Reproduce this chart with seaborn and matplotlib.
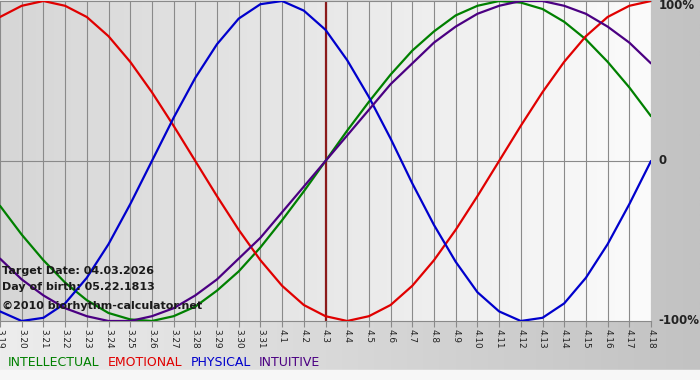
import numpy as np
import pandas as pd
import seaborn as sns
from matplotlib import pyplot as plt
from matplotlib.colors import LinearSegmentedColormap

sns.set_style('white')
plt.rcParams['font.family'] = ['DejaVu Sans']

# day labels, 3.19 .. 4.18
days = ['3.19', '3.20', '3.21', '3.22', '3.23', '3.24', '3.25', '3.26', '3.27', '3.28',
        '3.29', '3.30', '3.31', '4.1', '4.2', '4.3', '4.4', '4.5', '4.6', '4.7', '4.8',
        '4.9', '4.10', '4.11', '4.12', '4.13', '4.14', '4.15', '4.16', '4.17', '4.18']

# cycle values in percent
intellectual = [-28, -46, -62, -76, -87, -95, -99, -100, -97, -91, -81, -69, -54, -37, -19, 0,
                19, 37, 54, 69, 81, 91, 97, 100, 99, 95, 87, 76, 62, 46, 28]
emotional = [90, 97, 100, 97, 90, 78, 62, 43, 22, 0, -22, -43, -62, -78, -90, -97,
             -100, -97, -90, -78, -62, -43, -22, 0, 22, 43, 62, 78, 90, 97, 100]
physical = [-94, -100, -98, -89, -73, -52, -27, 0, 27, 52, 73, 89, 98, 100, 94, 82,
            63, 40, 14, -14, -40, -63, -82, -94, -100, -98, -89, -73, -52, -27, 0]
intuitive = [-61, -74, -84, -92, -97, -100, -100, -97, -92, -84, -74, -61, -48, -32, -16, 0,
             16, 32, 48, 61, 74, 84, 92, 97, 100, 100, 97, 92, 84, 74, 61]

target_day = '4.3'
colors = {'INTELLECTUAL': '#008000', 'EMOTIONAL': '#e00000',
          'PHYSICAL': '#0000cc', 'INTUITIVE': '#4b0082'}

df = pd.DataFrame({'day': list(range(len(days))) * 4,
                   'value': intellectual + emotional + physical + intuitive,
                   'cycle': ['INTELLECTUAL'] * 31 + ['EMOTIONAL'] * 31
                            + ['PHYSICAL'] * 31 + ['INTUITIVE'] * 31})

fig = plt.figure(figsize=(7, 3.8), dpi=100)

# background of the whole picture
bg = fig.add_axes([0, 0, 1, 1])
bg_cmap = LinearSegmentedColormap.from_list('bg', ['#ededed', '#c2c2c2'])
bg.imshow(np.linspace(0, 1, 256).reshape(1, -1), extent=[0, 1, 0, 1],
          aspect='auto', cmap=bg_cmap)
bg.axhspan(0, 10 / 380, color='#f7f7f7')
bg.set_xlim(0, 1)
bg.set_ylim(0, 1)
bg.axis('off')

ax = fig.add_axes([0, 59 / 380, 651 / 700, 320 / 380])
plot_cmap = LinearSegmentedColormap.from_list('plot', ['#d6d6d6', '#fbfbfb'])
ax.imshow(np.linspace(0, 1, 256).reshape(1, -1), extent=[0, 30, -100, 100],
          aspect='auto', cmap=plot_cmap, zorder=0)

for i in range(len(days)):
    ax.axvline(i, color='#8a8a8a', lw=0.8, zorder=1)
ax.axhline(0, color='#8a8a8a', lw=0.8, zorder=1)
ax.axvline(days.index(target_day), color='#8b1a1a', lw=1.6, zorder=2)

sns.lineplot(data=df, x='day', y='value', hue='cycle', palette=colors,
             linewidth=1.6, legend=False, ax=ax, zorder=3)

ax.set_xlim(0, 30)
ax.set_ylim(-100, 100)
ax.set_xticks(range(len(days)))
ax.set_xticklabels(days, rotation=-90, fontsize=6.4, color='#222222')
ax.tick_params(axis='x', length=4, width=0.8, color='#8a8a8a', pad=2, bottom=True)
ax.set_yticks([])
ax.set_xlabel('')
ax.set_ylabel('')
for s in ['top', 'bottom']:
    ax.spines[s].set_color('#8a8a8a')
    ax.spines[s].set_linewidth(0.8)
ax.spines['left'].set_visible(False)
ax.spines['right'].set_visible(False)

for v, lab in [(100, '100%'), (0, '0'), (-100, '-100%')]:
    ax.text(1.012, (v + 100) / 200, lab, transform=ax.transAxes, fontsize=8.5,
            fontweight='bold', color='#222222', va='center', ha='left', clip_on=False)
ax.texts[0].set_y(0.985)

info = ['Target Date: 04.03.2026', 'Day of birth: 05.22.1813', '\u00a92010 biorhythm-calculator.net']
for txt, yp in zip(info, [271, 287, 306]):
    fig.text(2 / 700, 1 - yp / 380, txt, fontsize=8, fontweight='bold',
             color='#1a1a1a', va='center', ha='left', zorder=10)

xpos = 8
for name in ['INTELLECTUAL', 'EMOTIONAL', 'PHYSICAL', 'INTUITIVE']:
    t = fig.text(xpos / 700, 1 - 362 / 380, name, fontsize=9, color=colors[name],
                 va='center', ha='left')
    fig.canvas.draw()
    w = t.get_window_extent().width
    xpos += w + 8

plt.savefig('out.png', dpi=100)
